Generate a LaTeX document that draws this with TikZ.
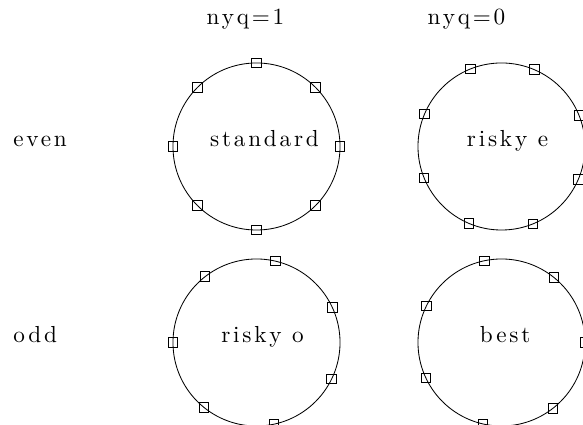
\documentclass[tikz,border=0pt]{standalone}
\usepackage{fontspec}
\usepackage{tikz}
\usetikzlibrary{positioning}
\newfontfamily\plotfont{lmroman10-regular.otf}[LetterSpace=12]

\begin{document}
\begin{tikzpicture}[x=0.025cm, y=0.025cm,
    ring/.style={circle, draw, line width=0.6pt, minimum size=4.175cm, inner sep=0pt, outer sep=0pt},
    sampbox/.style={rectangle, draw, line width=0.6pt, minimum size=0.24cm, inner sep=0pt},
    lbl/.style={font=\fontsize{16.5}{19}\selectfont\plotfont, inner sep=0pt, anchor=base}]
  \clip (0,0) rectangle (583,425);

  % the four cases
  \node[ring] (cA) at (256.5,278.5) {};
  \node[ring] (cB) at (501.5,278.5) {};
  \node[ring] (cC) at (256.5,82.5) {};
  \node[ring] (cD) at (501.5,82.5) {};

  % sample points round each circle
  \foreach \c/\n/\off in {cA/8/0, cB/8/22.5, cC/7/180, cD/7/0} {
    \foreach \k in {1,...,\n} {
      \pgfmathsetmacro{\ang}{\off+\k*360/\n}
      \node[sampbox] (\c-\k) at (\c.\ang) {};
    }
  }

  % names inside the circles
  \node[lbl, xshift=0.2cm] (nA) at (cA) {standard};
  \node[lbl, xshift=0.15cm] (nB) at (cB) {risky e};
  \node[lbl, xshift=0.15cm] (nC) at (cC) {risky o};
  \node[lbl, xshift=0.09cm] (nD) at (cD) {best};

  % column and row headings
  \node[lbl] (nyq1) at (245.5,400) {nyq=1};
  \node[lbl] (nyq0) at (466.5,400) {nyq=0};
  \node[lbl, anchor=base west] (even) at (13,278.5) {even};
  \node[lbl, anchor=base west] (odd) at (13,82.5) {odd};
\end{tikzpicture}
\end{document}
